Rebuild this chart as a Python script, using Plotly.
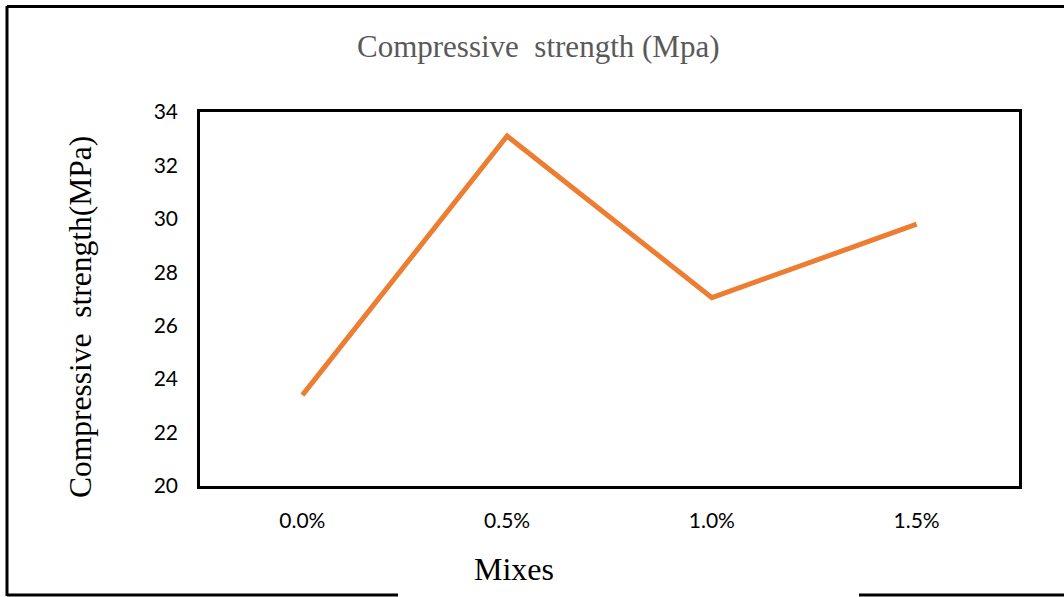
import plotly.graph_objects as go

mixes = ["0.0%", "0.5%", "1.0%", "1.5%"]
strength = [23.4, 33.1, 27.05, 29.8]
y_ticks = [20, 22, 24, 26, 28, 30, 32, 34]

W, H = 1064, 597
L, R, T, B = 200, 1019, 112, 486

def px(x):
    return (x - L) / (R - L)

def py(y):
    return (B - y) / (B - T)

fig = go.Figure()
fig.add_trace(go.Scatter(
    x=mixes, y=strength, mode="lines",
    line=dict(color="#ED7D31", width=5),
    showlegend=False, hoverinfo="skip",
))

border = dict(type="line", xref="paper", yref="paper",
              line=dict(color="black", width=3))
shapes = [
    dict(border, x0=px(7), x1=px(1070), y0=py(6.5), y1=py(6.5)),
    dict(border, x0=px(7), x1=px(7), y0=py(6), y1=py(596)),
    dict(border, x0=px(7), x1=px(398), y0=py(595), y1=py(595)),
    dict(border, x0=px(859), x1=px(1070), y0=py(595), y1=py(595)),
]

fig.update_layout(
    width=W, height=H,
    margin=dict(l=L, r=W - R, t=T, b=H - B),
    paper_bgcolor="white", plot_bgcolor="white",
    shapes=shapes,
    annotations=[
        dict(text="Compressive  strength (Mpa)", xref="paper", yref="paper",
             x=px(538), y=py(47), xanchor="center", yanchor="middle",
             showarrow=False,
             font=dict(family="Liberation Serif", size=31, color="#595959")),
        dict(text="Compressive  strength(MPa)", xref="paper", yref="paper",
             x=px(80), y=py(317), xanchor="center", yanchor="middle",
             showarrow=False, textangle=-90,
             font=dict(family="Liberation Serif", size=31.5, color="black")),
        dict(text="Mixes", xref="paper", yref="paper",
             x=px(514), y=py(569), xanchor="center", yanchor="middle",
             showarrow=False,
             font=dict(family="Liberation Serif", size=32, color="black")),
    ],
)
fig.update_xaxes(
    type="category", range=[-0.5, 3.5],
    showline=True, linecolor="black", linewidth=2.5, mirror=True,
    showgrid=False, zeroline=False, ticks="",
    ticklabelstandoff=14,
    tickfont=dict(family="Lato", size=21, color="black"),
)
fig.update_yaxes(
    range=[20, 34], tickvals=y_ticks,
    showline=True, linecolor="black", linewidth=2.5, mirror=True,
    showgrid=False, zeroline=False, ticks="",
    ticklabelstandoff=15,
    tickfont=dict(family="Lato", size=21, color="black"),
)

fig.write_html("out.html")
